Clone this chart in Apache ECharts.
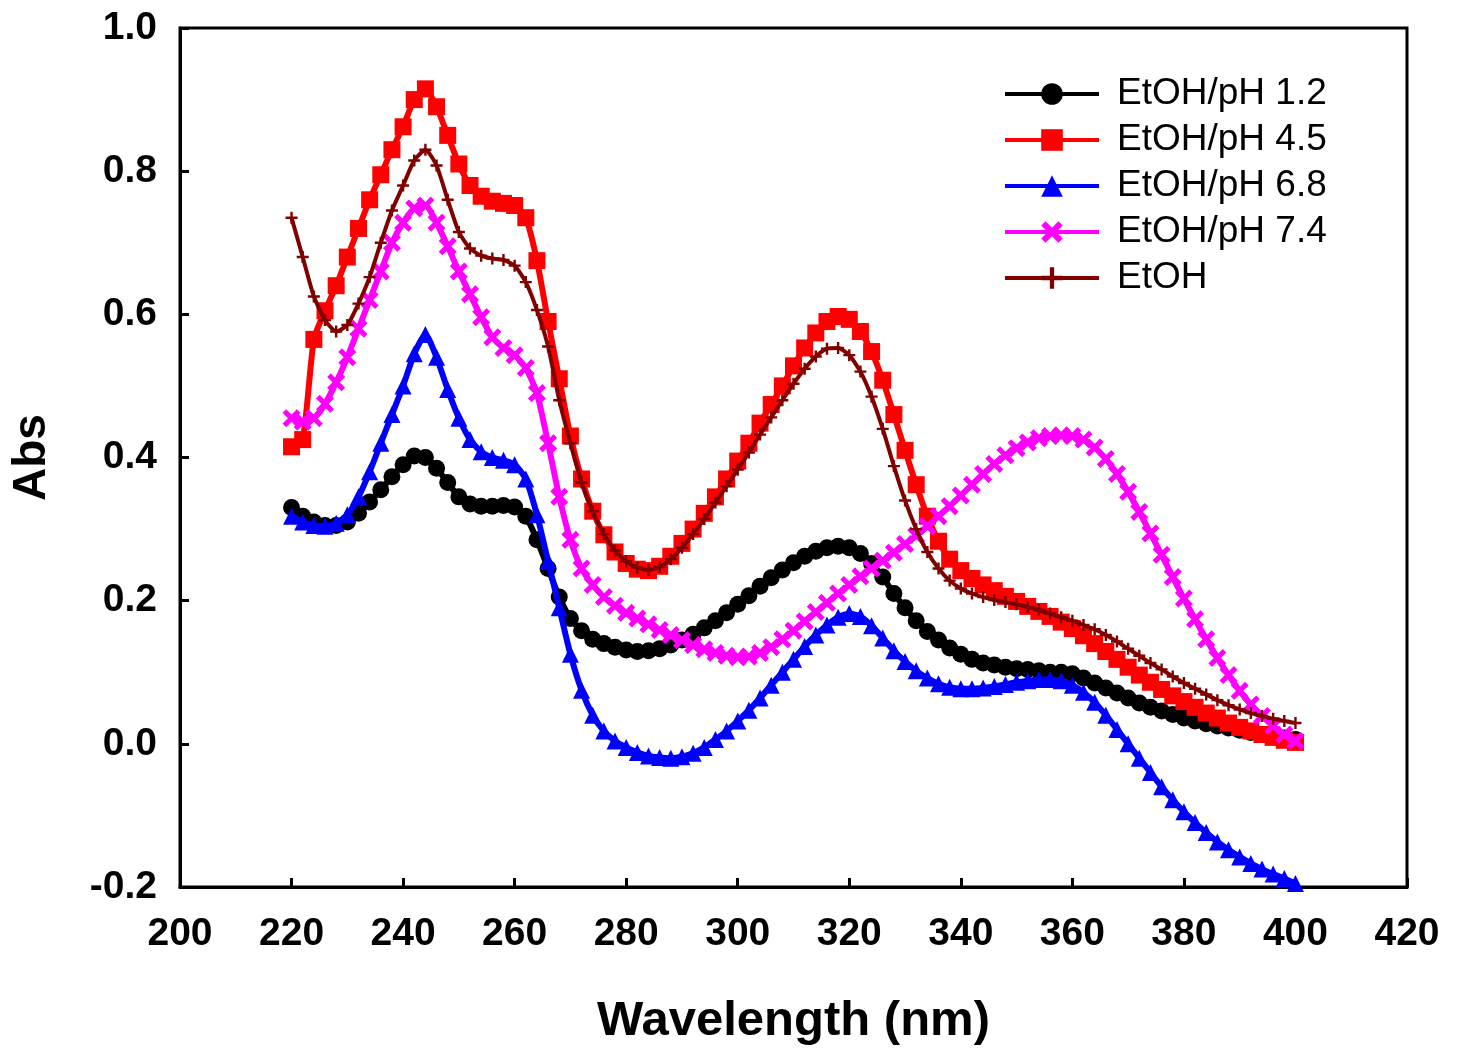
<!DOCTYPE html>
<html>
<head>
<meta charset="utf-8">
<script src="https://cdn.jsdelivr.net/npm/echarts@6/dist/echarts.min.js"></script>
<style>
html,body{margin:0;padding:0;background:#fff;}
#chart{width:1461px;height:1057px;}
</style>
</head>
<body>
<div id="chart"></div>
<script>
// Wavelength sampling grid (nm), 220..400 every 2 nm
const wavelengths = [];
for (let w = 220; w <= 400; w += 2) wavelengths.push(w);

const seriesNames = ['EtOH/pH 1.2', 'EtOH/pH 4.5', 'EtOH/pH 6.8', 'EtOH/pH 7.4', 'EtOH'];

const absPH12 = [
0.330,0.318,0.310,0.305,0.305,0.310,0.322,0.338,0.355,0.373,
0.390,0.402,0.400,0.385,0.365,0.345,0.335,0.332,0.332,0.333,
0.331,0.318,0.285,0.245,0.205,0.175,0.158,0.146,0.140,0.135,
0.131,0.129,0.130,0.133,0.138,0.145,0.153,0.162,0.172,0.183,
0.195,0.207,0.220,0.232,0.243,0.253,0.262,0.269,0.274,0.276,
0.274,0.266,0.252,0.233,0.210,0.190,0.172,0.157,0.145,0.134,
0.125,0.118,0.113,0.110,0.107,0.105,0.104,0.102,0.100,0.100,
0.098,0.092,0.085,0.078,0.071,0.064,0.057,0.051,0.046,0.041,
0.036,0.032,0.028,0.025,0.022,0.019,0.016,0.013,0.010,0.008,
0.006];

const absPH45 = [
0.415,0.425,0.565,0.605,0.640,0.680,0.720,0.760,0.795,0.830,
0.862,0.900,0.915,0.890,0.850,0.810,0.780,0.765,0.758,0.755,
0.752,0.735,0.675,0.590,0.510,0.430,0.370,0.325,0.292,0.268,
0.252,0.244,0.242,0.248,0.262,0.280,0.300,0.322,0.345,0.370,
0.395,0.420,0.448,0.474,0.500,0.528,0.553,0.574,0.590,0.597,
0.593,0.576,0.548,0.508,0.460,0.410,0.362,0.318,0.283,0.258,
0.242,0.231,0.222,0.214,0.206,0.199,0.192,0.185,0.178,0.170,
0.161,0.151,0.140,0.129,0.118,0.107,0.096,0.086,0.076,0.067,
0.059,0.051,0.043,0.036,0.029,0.023,0.018,0.013,0.009,0.005,
0.002];

const absPH68 = [
0.318,0.310,0.305,0.304,0.308,0.320,0.345,0.380,0.420,0.460,
0.500,0.545,0.572,0.540,0.495,0.455,0.425,0.408,0.400,0.396,
0.390,0.370,0.320,0.255,0.190,0.125,0.075,0.040,0.018,0.004,
-0.005,-0.012,-0.017,-0.019,-0.020,-0.018,-0.013,-0.005,0.006,0.018,
0.032,0.047,0.064,0.082,0.100,0.118,0.136,0.152,0.166,0.177,
0.182,0.178,0.165,0.148,0.130,0.115,0.102,0.092,0.084,0.079,
0.077,0.077,0.078,0.080,0.083,0.086,0.088,0.090,0.090,0.088,
0.082,0.072,0.058,0.040,0.020,0.000,-0.020,-0.040,-0.060,-0.078,
-0.095,-0.110,-0.124,-0.137,-0.148,-0.158,-0.167,-0.175,-0.182,-0.188,
-0.195];

const absPH74 = [
0.455,0.450,0.455,0.475,0.505,0.540,0.580,0.620,0.660,0.700,
0.728,0.748,0.752,0.728,0.695,0.660,0.628,0.596,0.568,0.553,
0.543,0.525,0.490,0.420,0.345,0.285,0.245,0.222,0.205,0.193,
0.183,0.175,0.167,0.159,0.152,0.145,0.138,0.132,0.127,0.123,
0.121,0.122,0.127,0.135,0.146,0.158,0.171,0.184,0.197,0.210,
0.222,0.234,0.245,0.256,0.267,0.279,0.291,0.304,0.318,0.332,
0.347,0.362,0.377,0.391,0.403,0.413,0.421,0.427,0.430,0.431,
0.430,0.425,0.414,0.398,0.377,0.352,0.324,0.294,0.264,0.233,
0.203,0.174,0.146,0.120,0.096,0.074,0.055,0.039,0.025,0.013,
0.004];

const absEtOH = [
0.735,0.680,0.625,0.592,0.576,0.585,0.615,0.652,0.700,0.745,
0.780,0.815,0.830,0.808,0.760,0.715,0.692,0.682,0.678,0.676,
0.668,0.645,0.606,0.555,0.480,0.420,0.365,0.325,0.293,0.270,
0.255,0.246,0.243,0.247,0.258,0.274,0.293,0.314,0.337,0.360,
0.383,0.407,0.432,0.456,0.480,0.503,0.524,0.541,0.552,0.553,
0.543,0.520,0.485,0.440,0.388,0.340,0.300,0.268,0.245,0.228,
0.217,0.210,0.205,0.201,0.198,0.195,0.191,0.187,0.182,0.177,
0.172,0.166,0.160,0.152,0.143,0.133,0.123,0.113,0.104,0.094,
0.085,0.077,0.069,0.061,0.054,0.048,0.043,0.039,0.035,0.032,
0.029];

const xTicks = [200,220,240,260,280,300,320,340,360,380,400,420];
const yTicks = [-0.2,0.0,0.2,0.4,0.6,0.8,1.0];

const allValues = [absPH12, absPH45, absPH68, absPH74, absEtOH];
const colors = ['#000000', '#ff0000', '#0000ff', '#ff00ff', '#800000'];
const xPath = 'path://M0,2 L2,0 L5,3 L8,0 L10,2 L7,5 L10,8 L8,10 L5,7 L2,10 L0,8 L3,5 Z';
const plusPath = 'path://M4,0 L6,0 L6,4 L10,4 L10,6 L6,6 L6,10 L4,10 L4,6 L0,6 L0,4 L4,4 Z';
const symbols = ['circle', 'rect', 'triangle', xPath, plusPath];
const symbolSizes = [17, 17, 17, 18, 12];
const lineWidths = [6, 6, 6, 6, 4];

const series = seriesNames.map((name, i) => ({
  name: name,
  type: 'line',
  data: wavelengths.map((w, k) => [w, allValues[i][k]]),
  symbol: symbols[i],
  symbolSize: symbolSizes[i],
  showAllSymbol: true,
  smooth: 0.2,
  itemStyle: { color: colors[i] },
  lineStyle: { color: colors[i], width: lineWidths[i] },
  emphasis: { disabled: true },
  z: 2 + i
}));

const chart = echarts.init(document.getElementById('chart'), null, { renderer: 'canvas' });
const font = '"Liberation Sans", Arial, sans-serif';
chart.setOption({
  animation: false,
  backgroundColor: '#ffffff',
  grid: {
    left: 180, right: 54, top: 28, bottom: 170,
    show: true, borderColor: '#000', borderWidth: 3, backgroundColor: 'transparent'
  },
  legend: {
    show: true,
    orient: 'vertical',
    left: 998,
    top: 66,
    itemWidth: 94,
    itemHeight: 27,
    itemGap: 0,
    data: seriesNames.map(n => ({ name: n, itemStyle: {}, lineStyle: { width: 4 } })),
    textStyle: { fontFamily: font, fontSize: 37, color: '#000', lineHeight: 46, padding: [0, 0, 0, 13] },
    selectedMode: false
  },
  xAxis: {
    type: 'value',
    min: 200, max: 420, interval: 20,
    name: 'Wavelength (nm)',
    nameLocation: 'middle',
    nameGap: 110,
    nameTextStyle: { fontFamily: font, fontSize: 49, fontWeight: 'bold', color: '#000' },
    axisLine: { show: true, onZero: false, lineStyle: { color: '#000', width: 3 } },
    axisTick: { show: true, inside: true, length: 9, lineStyle: { color: '#000', width: 3 } },
    axisLabel: { fontFamily: font, fontSize: 39, fontWeight: 'bold', color: '#000', margin: 28,
                 formatter: v => xTicks.includes(v) ? String(v) : '' },
    splitLine: { show: false }
  },
  yAxis: {
    type: 'value',
    min: -0.2, max: 1.0, interval: 0.2,
    name: 'Abs',
    nameLocation: 'middle',
    nameGap: 125,
    nameTextStyle: { fontFamily: font, fontSize: 46, fontWeight: 'bold', color: '#000' },
    axisLine: { show: true, onZero: false, lineStyle: { color: '#000', width: 3 } },
    axisTick: { show: true, inside: true, length: 9, lineStyle: { color: '#000', width: 3 } },
    axisLabel: { fontFamily: font, fontSize: 39, fontWeight: 'bold', color: '#000', margin: 23,
                 formatter: v => { const t = yTicks.find(y => Math.abs(y - v) < 1e-6); return t === undefined ? '' : t.toFixed(1); } },
    splitLine: { show: false }
  },
  series: series
});
</script>
</body>
</html>
